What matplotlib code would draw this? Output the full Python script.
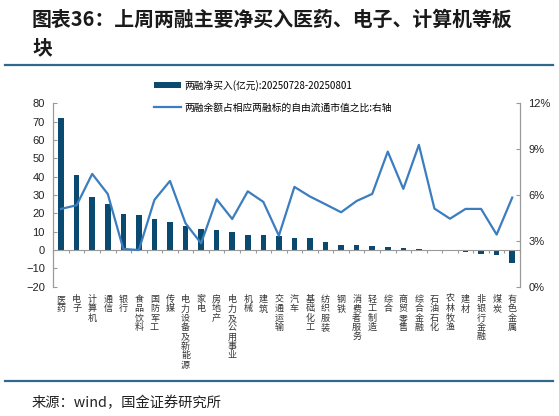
import matplotlib
matplotlib.use("Agg")
import matplotlib.pyplot as plt
from matplotlib.lines import Line2D
import matplotlib.transforms as mtransforms
import numpy as np

plt.rcParams['font.family'] = ['Liberation Sans', 'Noto Sans CJK SC', 'DejaVu Sans']

# 数据
industries = ['医药', '电子', '计算机', '通信', '银行', '食品饮料', '国防军工', '传媒',
              '电力设备及新能源', '家电', '房地产', '电力及公用事业', '机械', '建筑',
              '交通运输', '汽车', '基础化工', '纺织服装', '钢铁', '消费者服务', '轻工制造',
              '综合', '商贸零售', '综合金融', '石油石化', '农林牧渔', '建材', '非银行金融',
              '煤炭', '有色金属']
net_buy = [72.0, 40.9, 28.9, 25.3, 19.5, 19.1, 16.9, 15.3, 13.3, 11.5, 10.7, 9.6, 8.4, 8.0,
           7.6, 6.7, 6.4, 4.2, 2.9, 2.5, 2.2, 1.5, 1.1, 0.5, -0.3, -0.6, -1.3, -2.0, -2.8, -7.2]
ratio_pct = [5.09, 5.33, 7.38, 6.07, 2.47, 2.40, 5.68, 6.92, 4.15, 2.84, 5.72, 4.43, 6.24, 5.55,
             3.34, 6.53, 5.90, 5.39, 4.87, 5.61, 6.07, 8.84, 6.40, 9.28, 5.11, 4.45, 5.09, 5.09,
             3.41, 5.83]

bar_label = '两融净买入(亿元):20250728-20250801'
line_label = '两融余额占相应两融标的自由流通市值之比:右轴'
title_lines = ['图表36：上周两融主要净买入医药、电子、计算机等板', '块']
source = '来源：wind，国金证券研究所'

bar_color = '#0b4a70'
line_color = '#3b7dbf'
rule_color = '#2f6a8e'
spine_color = '#9a9a9a'

W, H = 559, 416
fig = plt.figure(figsize=(W / 100, H / 100), dpi=100)

# 标题和分隔线
cjk = ['Noto Sans CJK SC', 'DejaVu Sans']
fig.text(32 / W, 1 - 19 / H, title_lines[0], family=cjk, fontsize=14.3, fontweight='bold',
         color='#1a1a1a', va='center', ha='left')
fig.text(32 / W, 1 - 48 / H, title_lines[1], family=cjk, fontsize=14.3, fontweight='bold',
         color='#1a1a1a', va='center', ha='left')
fig.add_artist(Line2D([5 / W, 553 / W], [1 - 65 / H, 1 - 65 / H], color=rule_color, lw=1.6))
fig.add_artist(Line2D([5 / W, 553 / W], [1 - 381 / H, 1 - 381 / H], color=rule_color, lw=1.6))
fig.text(32 / W, 1 - 403 / H, source, family=cjk, fontsize=10.3, color='#222222',
         va='center', ha='left')

ax = fig.add_axes([53.3 / W, 1 - 286.7 / H, (520 - 53.3) / W, (286.7 - 103.3) / H])
ax2 = ax.twinx()

x = np.arange(len(industries))
bars = ax.bar(x, net_buy, width=0.36, color=bar_color, zorder=2)
ln, = ax2.plot(x, ratio_pct, color=line_color, lw=1.6, zorder=3)

ax.set_xlim(-0.5, len(industries) - 0.5)
ax.set_ylim(-20, 80)
ax.set_yticks(np.arange(-20, 81, 10))
ax2.set_ylim(0, 12)
ax2.set_yticks([0, 3, 6, 9, 12])
ax2.set_yticklabels([f'{v}%' for v in [0, 3, 6, 9, 12]])

ax.spines['bottom'].set_position(('data', 0))
ax.set_xticks(np.arange(-0.5, len(industries), 1.0))
ax.set_xticklabels([])
ax.tick_params(axis='x', direction='out', length=2.5, color=spine_color, width=0.8)

for a in (ax, ax2):
    a.spines['top'].set_visible(False)
    for s in ('left', 'right', 'bottom'):
        a.spines[s].set_color(spine_color)
        a.spines[s].set_linewidth(0.8)
ax2.spines['bottom'].set_visible(False)
ax.tick_params(axis='y', direction='in', length=3, color=spine_color, labelsize=8,
               labelcolor='#222222', pad=6)
ax2.tick_params(axis='y', direction='in', length=3, color=spine_color, labelsize=8,
                labelcolor='#222222', pad=6)

# 竖排行业名称
trans = mtransforms.blended_transform_factory(ax.transData, ax.transAxes)
for xi, name in zip(x, industries):
    ax.text(xi, -0.045, '\n'.join(name), transform=trans, family=cjk, fontsize=6.5,
            color='#333333', ha='center', va='top', linespacing=1.05)

fig.legend([bars, ln], [bar_label, line_label], loc='upper left',
           bbox_to_anchor=(154 / W, 1 - 80 / H), frameon=False, prop={'family': cjk, 'size': 7},
           handlelength=2.8, handleheight=0.6, labelspacing=1.2, handletextpad=0.3,
           borderaxespad=0, borderpad=0)

fig.savefig('out.png', dpi=100)
